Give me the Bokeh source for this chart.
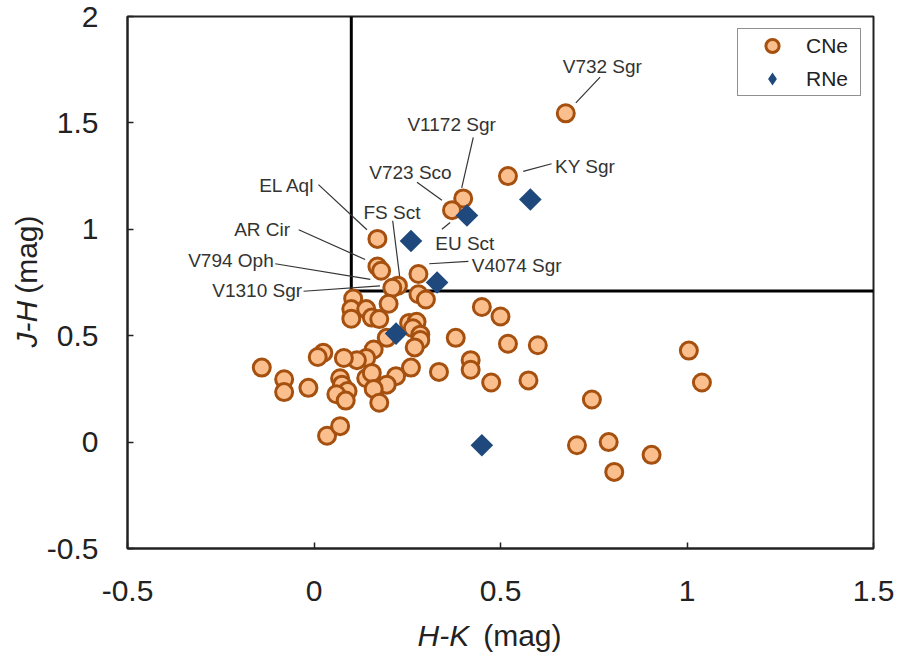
import numpy as np
from bokeh.plotting import figure
from bokeh.models import Legend, LegendItem, FixedTicker, Range1d, ColumnDataSource, Title
from bokeh.embed import file_html
from bokeh.resources import INLINE
from bokeh.core.properties import value

# ---------------- data ----------------
cne_hk = [0.675, 0.52, 0.40, 0.37, 0.17, 0.17, 0.18, 0.225, 0.21, 0.28,
          0.28, 0.30, 0.105, 0.10, 0.10, 0.14, 0.155, 0.175, 0.20, 0.45,
          0.50, 0.255, 0.275, 0.265, 0.285, 0.285, 0.27, 0.195, 0.38, 0.52,
          0.60, 0.42, 0.42, 0.475, 0.575, 0.335, 0.26, 0.22, 0.195, 0.16,
          0.14, 0.115, 0.08, 0.025, 0.01, -0.14, -0.08, -0.08, -0.015, 0.07,
          0.075, 0.09, 0.06, 0.085, 0.14, 0.155, 0.16, 0.175, 0.035, 0.07,
          0.745, 0.705, 0.79, 0.905, 0.805, 1.005, 1.04]
cne_jh = [1.545, 1.25, 1.145, 1.09, 0.955, 0.825, 0.805, 0.735, 0.725, 0.79,
          0.695, 0.67, 0.675, 0.625, 0.58, 0.625, 0.585, 0.578, 0.65, 0.635,
          0.59, 0.56, 0.565, 0.535, 0.505, 0.48, 0.445, 0.49, 0.49, 0.462,
          0.455, 0.385, 0.34, 0.28, 0.29, 0.33, 0.35, 0.31, 0.27, 0.435,
          0.395, 0.385, 0.395, 0.42, 0.40, 0.35, 0.295, 0.235, 0.255, 0.30,
          0.27, 0.24, 0.225, 0.195, 0.30, 0.325, 0.25, 0.185, 0.03, 0.075,
          0.20, -0.015, 0.0, -0.06, -0.14, 0.43, 0.28]

rne_hk = [0.26, 0.41, 0.58, 0.33, 0.22, 0.45]
rne_jh = [0.945, 1.065, 1.14, 0.75, 0.51, -0.015]

x_ticks = [-0.5, 0, 0.5, 1, 1.5]
x_tick_labels = ["-0.5", "0", "0.5", "1", "1.5"]
y_ticks = [-0.5, 0, 0.5, 1, 1.5, 2]
y_tick_labels = ["-0.5", "0", "0.5", "1", "1.5", "2"]

# region boundary (H-K = 0.1, J-H = 0.71)
boundary_x = [0.1, 0.1, 1.5]
boundary_y = [2.0, 0.71, 0.71]

# annotated novae: names, label anchors, leader lines
label_names = ["V732 Sgr", "V1172 Sgr", "KY Sgr", "V723 Sco", "EL Aql", "FS Sct",
               "AR Cir", "V794 Oph", "V1310 Sgr", "EU Sct", "V4074 Sgr"]
label_x = [0.773, 0.369, 0.646, 0.369, 0.003, 0.209, -0.064, -0.108, -0.032, 0.325, 0.423]
label_y = [1.763, 1.493, 1.297, 1.269, 1.204, 1.078, 1.000, 0.855, 0.714, 0.931, 0.830]
label_align = ["center", "center", "left", "right", "right", "center",
               "right", "right", "right", "left", "left"]
leader_x0 = [0.767, 0.427, 0.637, 0.276, 0.012, 0.211, -0.041, -0.104, -0.028, 0.343, 0.414]
leader_y0 = [1.715, 1.432, 1.308, 1.221, 1.210, 1.040, 0.998, 0.838, 0.709, 1.000, 0.849]
leader_x1 = [0.702, 0.396, 0.561, 0.343, 0.142, 0.231, 0.137, 0.151, 0.177, 0.365, 0.309]
leader_y1 = [1.594, 1.195, 1.272, 1.137, 0.998, 0.760, 0.858, 0.765, 0.734, 1.032, 0.838]

FONT = "Liberation Sans"
INK = "#222222"

# ---------------- figure ----------------
p = figure(width=898, height=663, output_backend="svg", toolbar_location=None,
           x_range=Range1d(-0.5, 1.5), y_range=Range1d(-0.5, 2.0),
           min_border_left=127, min_border_right=25, min_border_top=16, min_border_bottom=115)
p.grid.visible = False
p.background_fill_color = "white"
p.border_fill_color = "white"
p.outline_line_color = INK
p.outline_line_width = 2
p.outline_line_alpha = 1

p.xaxis.ticker = FixedTicker(ticks=x_ticks)
p.yaxis.ticker = FixedTicker(ticks=y_ticks)
p.xaxis.major_label_overrides = {float(t): s for t, s in zip(x_ticks, x_tick_labels)}
p.yaxis.major_label_overrides = {float(t): s for t, s in zip(y_ticks, y_tick_labels)}
for ax in (p.xaxis[0], p.yaxis[0]):
    ax.major_label_text_font = FONT
    ax.major_label_text_font_size = "30px"
    ax.major_label_text_color = INK
    ax.major_tick_in = 6
    ax.major_tick_out = 0
    ax.major_tick_line_color = INK
    ax.major_tick_line_width = 1.5
    ax.minor_tick_line_color = None
    ax.axis_line_color = INK
    ax.axis_line_width = 2
p.xaxis.major_label_standoff = 32
p.yaxis.major_label_standoff = 29

# boundary lines
p.line(boundary_x, boundary_y, line_width=3, line_color="black")

# leader lines
p.segment(leader_x0, leader_y0, leader_x1, leader_y1, line_color="#333333", line_width=1.2)

# name labels
lsrc = ColumnDataSource(dict(x=label_x, y=label_y, text=label_names, align=label_align))
p.text(x="x", y="y", text="text", source=lsrc, text_align="align", text_baseline="middle",
       text_font=value(FONT), text_font_size="19px", text_color="#333333")

# markers
r1 = p.scatter(cne_hk, cne_jh, marker="circle", size=17, fill_color="#FBBF8E",
               line_color="#A5500F", line_width=3)
# diamond key glyph for the legend, fully hidden beneath the rotated squares
r2_key = p.scatter(rne_hk, rne_jh, marker="diamond", size=15, fill_color="#1F497D", line_color=None)
r2 = p.scatter(rne_hk, rne_jh, marker="square", angle=np.pi / 4, size=16,
               fill_color="#1F497D", line_color=None)

legend = Legend(items=[LegendItem(label="CNe", renderers=[r1]),
                       LegendItem(label="RNe", renderers=[r2_key])],
                location="top_right", margin=12, padding=0, spacing=0,
                glyph_height=33, glyph_width=68, label_height=33, label_width=54,
                label_standoff=0, label_text_font=FONT, label_text_font_size="21px",
                label_text_color=INK, border_line_color=INK,
                border_line_width=1.5, background_fill_color="white", background_fill_alpha=1)
p.add_layout(legend)

# axis titles: italic variable name + upright unit on one line
SB = -96   # below: both titles share one zero-height panel under the axis
SL = -68   # left
for txt, style, align, off in [("H-K", "italic", "left", 290), ("(mag)", "normal", "right", 312)]:
    p.add_layout(Title(text=txt, text_font_style=style, align=align, offset=off,
                       vertical_align="bottom", standoff=SB, text_font=FONT,
                       text_font_size="30px", text_color=INK), "below")
for txt, style, align, off in [("J-H", "italic", "left", 201), ("(mag)", "normal", "right", 199)]:
    p.add_layout(Title(text=txt, text_font_style=style, align=align, offset=off,
                       vertical_align="top", standoff=SL, text_font=FONT,
                       text_font_size="30px", text_color=INK), "left")

open("out.html", "w").write(file_html(p, INLINE))
